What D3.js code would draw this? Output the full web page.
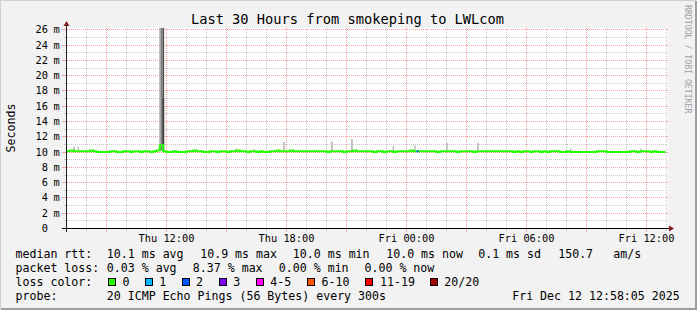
<!DOCTYPE html>
<html>
<head>
<meta charset="utf-8">
<script src="https://cdn.jsdelivr.net/npm/d3@7"></script>
<style>
  body { margin: 0; background: #f2f2f2; }
  svg { display: block; }
  text { font-family: "DejaVu Sans Mono", monospace; fill: #000; }
</style>
</head>
<body>
<svg id="chart" width="697" height="310"></svg>
<script>
// ---- data ----
const startTime = new Date(Date.UTC(2025, 11, 11, 7, 0));
const endTime = new Date(Date.UTC(2025, 11, 12, 13, 0));
const stepMinutes = 10;

// median rtt in ms, one value per 10 minutes
const medianMs = [
  10.1,10.2,10.1,10.1,10.1,10.1,10.1,10.2,10.1,10.0,
  10.0,10.0,10.0,10.1,10.1,10.0,10.0,10.1,10.1,10.0,
  10.1,10.1,10.0,10.1,10.1,10.0,10.1,10.2,10.9,10.1,
  10.0,10.0,10.1,10.0,10.0,10.0,10.1,10.1,10.2,10.1,
  10.1,10.0,10.0,10.1,10.1,10.0,10.1,10.1,10.0,10.1,
  10.1,10.2,10.1,10.1,10.0,10.1,10.1,10.0,10.1,10.0,
  10.0,10.1,10.1,10.2,10.1,10.1,10.1,10.2,10.1,10.1,
  10.1,10.1,10.1,10.1,10.1,10.1,10.1,10.1,10.0,10.1,
  10.1,10.1,10.1,10.0,10.1,10.1,10.2,10.1,10.1,10.1,
  10.1,10.1,10.0,10.1,10.1,10.0,10.1,10.1,10.0,10.1,
  10.1,10.1,10.1,10.2,10.1,10.1,10.1,10.1,10.1,10.1,
  10.1,10.0,10.1,10.1,10.1,10.1,10.1,10.0,10.1,10.1,
  10.1,10.1,10.0,10.1,10.1,10.1,10.1,10.1,10.1,10.1,
  10.1,10.1,10.1,10.1,10.0,10.1,10.0,10.1,10.1,10.0,
  10.1,10.1,10.0,10.1,10.0,10.1,10.1,10.1,10.0,10.0,
  10.1,10.0,10.0,10.0,10.0,10.0,10.0,10.0,10.0,10.1,
  10.1,10.1,10.0,10.0,10.0,10.0,10.0,10.0,10.0,10.1,
  10.1,10.0,10.1,10.1,10.1,10.0,10.1,10.0,10.0,10.0
];
// samples with packet loss (index into medianMs, lost pings)
const lossIndex = [105];
const lossPings = [2];

// smoke: hours after start, low/high rtt (ms), ping density 0..1
const smokeHours   = [0.33, 0.55, 3.18, 4.64, 4.72, 4.80, 4.80, 8.43, 9.33, 10.83, 13.23, 14.23, 16.3, 17.38, 18.98, 20.53, 25.18, 28.68];
const smokeLow     = [10.1, 10.1, 10.1, 10.2, 10.2, 10.2, 10.2, 10.1, 10.1, 10.1,  10.1,  10.1,  10.1, 10.1,  10.1,  10.1,  10.1,  10.1];
const smokeHigh    = [10.7, 10.7, 10.3, 40,   40,   40,   17,   10.5, 10.4, 11.3,  11.4,  11.7,  10.8, 10.9,  11.2,  11.2,  10.5,  10.5];
const smokeDensity = [0.2,  0.2,  0.12, 0.3,  0.55, 0.78, 0.9,  0.12, 0.12, 0.22,  0.24,  0.24,  0.18, 0.18,  0.2,   0.2,   0.12,  0.12];

const yTicks = d3.range(0, 27, 2);
const yMinor = d3.range(1, 27, 2);

const lossLabels = ["0", "1", "2", "3", "4-5", "6-10", "11-19", "20/20"];
const lossColors = ["#26ff00", "#00b8ff", "#0059ff", "#7e00ff", "#ff00ff", "#ff5500", "#ff0000", "#a10000"];

const rttStats = ["10.1 ms avg", "10.9 ms max", "10.0 ms min", "10.0 ms now", "0.1 ms sd", "150.7", "am/s"];
const lossStats = ["0.03 % avg", "8.37 % max", "0.00 % min", "0.00 % now"];
const probeText = "20 ICMP Echo Pings (56 Bytes) every 300s";
const stampText = "Fri Dec 12 12:58:05 2025";
const titleText = "Last 30 Hours from smokeping to LWLcom";

// ---- drawing ----
const svg = d3.select("#chart");
const pLeft = 66.5, pRight = 666.5, pTop = 28, pBottom = 228.5;

const x = d3.scaleUtc().domain([startTime, endTime]).range([pLeft, pRight]);
const y = d3.scaleLinear().domain([0, 26.17]).range([pBottom, 28.5]);
const crisp = v => Math.round(v - 0.5) + 0.5;
const hourTime = h => new Date(startTime.getTime() + h * 3600e3);
const sampleTime = i => new Date(startTime.getTime() + i * stepMinutes * 60e3);

// background and frame
svg.append("rect").attr("width", 697).attr("height", 310).attr("fill", "#f2f2f2");
svg.append("path").attr("d", "M0,309 V0 H696").attr("fill", "none")
  .attr("stroke", "#cfcfcf").attr("stroke-width", 2);
svg.append("path").attr("d", "M1,309 H696 V1").attr("fill", "none")
  .attr("stroke", "#9e9e9e").attr("stroke-width", 2);

svg.append("rect").attr("x", 67).attr("y", pTop).attr("width", 601).attr("height", 200).attr("fill", "#fff");

// grid
const gridMinor = "#c8c8c8", gridMajor = "#f2a0a0";
const grid = svg.append("g");
yMinor.forEach(v => {
  const yy = crisp(y(v));
  grid.append("line").attr("x1", 64).attr("x2", 66).attr("y1", yy).attr("y2", yy).attr("stroke", gridMinor);
  grid.append("line").attr("x1", 67).attr("x2", 667).attr("y1", yy).attr("y2", yy)
    .attr("stroke", gridMinor).attr("stroke-dasharray", "1,1");
});
yTicks.filter(v => v > 0).forEach(v => {
  const yy = crisp(y(v));
  grid.append("line").attr("x1", 62).attr("x2", 66).attr("y1", yy).attr("y2", yy).attr("stroke", gridMajor);
  grid.append("line").attr("x1", 67).attr("x2", 669).attr("y1", yy).attr("y2", yy)
    .attr("stroke", gridMajor).attr("stroke-dasharray", "1,1");
});
x.ticks(d3.utcHour.every(1)).forEach(t => {
  const major = t.getUTCHours() % 3 === 0;
  const xx = crisp(x(t));
  if (xx <= pLeft + 1) return;
  const c = major ? gridMajor : gridMinor;
  grid.append("line").attr("x1", xx).attr("x2", xx).attr("y1", pTop).attr("y2", 228)
    .attr("stroke", c).attr("stroke-dasharray", "1,1");
  grid.append("line").attr("x1", xx).attr("x2", xx).attr("y1", 229).attr("y2", major ? 232 : 231)
    .attr("stroke", c);
});

// smoke
svg.append("clipPath").attr("id", "plotClip")
  .append("rect").attr("x", 67).attr("y", pTop).attr("width", 601).attr("height", 200);
const shade = d3.scaleLinear().domain([0, 1]).range(["#e4e4e4", "#2a2a2a"]);
const sampleW = x(hourTime(5 / 60)) - x(startTime);
svg.append("g").attr("clip-path", "url(#plotClip)")
  .selectAll("rect").data(smokeHours).join("rect")
  .attr("x", h => x(hourTime(h)))
  .attr("width", sampleW)
  .attr("y", (h, i) => y(smokeHigh[i]))
  .attr("height", (h, i) => y(smokeLow[i]) - y(smokeHigh[i]))
  .attr("fill", (h, i) => shade(smokeDensity[i]));

// median line
const pts = medianMs.map((v, i) => [sampleTime(i), v]);
pts.push([sampleTime(medianMs.length - 0.3), medianMs[medianMs.length - 1]]);
const line = d3.line().x(d => x(d[0])).y(d => y(d[1])).curve(d3.curveStepAfter);
svg.append("path").attr("d", line(pts)).attr("fill", "none")
  .attr("stroke", lossColors[0]).attr("stroke-width", 2);
lossIndex.forEach((idx, k) => {
  const seg = [[sampleTime(idx), medianMs[idx]], [sampleTime(idx + 0.6), medianMs[idx]]];
  const n = lossPings[k];
  const ci = n <= 3 ? n : n <= 5 ? 4 : n <= 10 ? 5 : n < 20 ? 6 : 7;
  svg.append("path").attr("d", line(seg)).attr("fill", "none")
    .attr("stroke", lossColors[ci]).attr("stroke-width", 2);
});

// axes and arrows
svg.append("line").attr("x1", 62).attr("x2", 670).attr("y1", 228.5).attr("y2", 228.5).attr("stroke", "#000");
svg.append("line").attr("x1", 66.5).attr("x2", 66.5).attr("y1", 232).attr("y2", 24).attr("stroke", "#1f1f1f");
svg.append("path").attr("d", "M63.5,26 L69.5,26 L66.5,21 Z").attr("fill", "#801f1f");
svg.append("path").attr("d", "M669,225.5 L669,231.5 L674,228.5 Z").attr("fill", "#801f1f");

// axis labels
const tickFont = "10.3px";
yTicks.forEach(v => {
  const yy = crisp(y(v)) + 3.7;
  svg.append("text").attr("x", 47.9).attr("y", yy).attr("text-anchor", "end")
    .style("font-size", tickFont).text(v);
  if (v > 0) svg.append("text").attr("x", 53.6).attr("y", yy).style("font-size", tickFont).text("m");
});
x.ticks(d3.utcHour.every(6)).forEach(t => {
  svg.append("text").attr("x", crisp(x(t))).attr("y", 241.5).attr("text-anchor", "middle")
    .style("font-size", tickFont).text(d3.utcFormat("%a %H:%M")(t));
});

svg.append("text").attr("x", 347.5).attr("y", 24).attr("text-anchor", "middle")
  .style("font-size", "13.7px").text(titleText);
svg.append("text").attr("transform", "translate(15,128) rotate(-90)").attr("text-anchor", "middle")
  .style("font-size", "11.6px").text("Seconds");
svg.append("text").attr("transform", "translate(685,5) rotate(90)")
  .style("font-size", "8.2px").style("fill", "#a0a0a0").text("RRDTOOL / TOBI OETIKER");

// legend
const lg = svg.append("g").style("font-size", "11.6px");
const rows = [258, 271.9, 285.8, 299.7];
lg.append("text").attr("x", 15.5).attr("y", rows[0]).text("median rtt:");
[106.8, 200.2, 292.8, 386.2, 478.2, 558.2, 613.2].forEach((xx, i) =>
  lg.append("text").attr("x", xx).attr("y", rows[0]).text(rttStats[i]));
lg.append("text").attr("x", 15.5).attr("y", rows[1]).text("packet loss:");
[106.8, 192.8, 278.8, 364.5].forEach((xx, i) =>
  lg.append("text").attr("x", xx).attr("y", rows[1]).text(lossStats[i]));
lg.append("text").attr("x", 15.5).attr("y", rows[2]).text("loss color:");
const boxX = [108.5, 145.5, 182.5, 219.5, 256.5, 307.5, 365.5, 430.5];
const labX = [122.5, 159.3, 196, 233.3, 270.3, 321.6, 380, 444.3];
lossLabels.forEach((l, i) => {
  lg.append("rect").attr("x", boxX[i]).attr("y", 278.5).attr("width", 7).attr("height", 7)
    .attr("fill", lossColors[i]).attr("stroke", "#000");
  lg.append("text").attr("x", labX[i]).attr("y", rows[2]).text(l);
});
lg.append("text").attr("x", 15.5).attr("y", rows[3]).text("probe:");
lg.append("text").attr("x", 106.8).attr("y", rows[3]).text(probeText);
lg.append("text").attr("x", 512.2).attr("y", rows[3]).text(stampText);
</script>
</body>
</html>
